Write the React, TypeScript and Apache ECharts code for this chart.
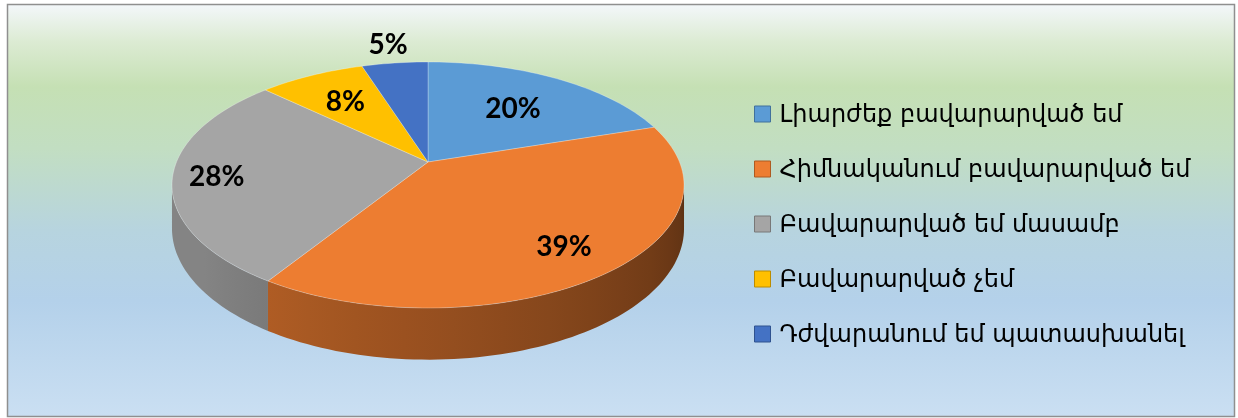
import React, { useEffect, useRef } from "react";
import * as echarts from "echarts";

const CATEGORIES = [
  "Լիարժեք բավարարված եմ",
  "Հիմնականում բավարարված եմ",
  "Բավարարված եմ մասամբ",
  "Բավարարված չեմ",
  "Դժվարանում եմ պատասխանել",
];
const VALUES = [20, 39, 28, 8, 5];
const COLORS = ["#5b9bd5", "#ed7d31", "#a5a5a5", "#ffc000", "#4472c4"];
const BORDERS = ["#41719c", "#ae5a21", "#787878", "#bc8c00", "#2f528f"];
const LABEL_RADIUS = [0.63, 0.78, 0.83, 0.68, 1.25];

// projection of the tilted pie
const CX = 428;
const CY = 162;
const A = 118.7;
const B = 251.5;
const PB = 0.187;
const H = 42;

function project(deg: number, r: number, h: number) {
  const t = (deg * Math.PI) / 180;
  const X = r * Math.sin(t);
  const Z = r * Math.cos(t);
  const d = 1 + PB * Z;
  return [CX + (B * X) / d, CY - (A * Z) / d + (H * h) / d];
}

function hexToRgb(c: string) {
  const n = parseInt(c.slice(1), 16);
  return [(n >> 16) & 255, (n >> 8) & 255, n & 255];
}
function shade(c: string, f: number) {
  const [r, g, b] = hexToRgb(c);
  return `rgb(${Math.round(r * f)},${Math.round(g * f)},${Math.round(b * f)})`;
}
function wallFactor(deg: number) {
  return Math.min(0.8, Math.max(0.39, 0.39 + (deg - 100) * 0.0031));
}

const TOTAL = VALUES.reduce((a, b) => a + b, 0);
const VIS0 = (Math.acos(-PB) * 180) / Math.PI;
const VIS1 = 360 - VIS0;

function renderItem(params: any, api: any) {
  const i = params.dataIndex;
  let before = 0;
  for (let k = 0; k < i; k++) before += VALUES[k];
  const v = api.value(0);
  const a0 = (before / TOTAL) * 360;
  const a1 = ((before + v) / TOTAL) * 360;
  const children: any[] = [];

  // side wall
  const s = Math.max(a0, VIS0);
  const e = Math.min(a1, VIS1);
  if (e > s) {
    const n = Math.max(2, Math.ceil((e - s) / 1.5));
    const top: number[][] = [];
    const bot: number[][] = [];
    for (let k = 0; k <= n; k++) {
      const p = s + ((e - s) * k) / n;
      top.push(project(p, 1, 0));
      bot.push(project(p, 1, 1));
    }
    const x0 = top[0][0];
    const x1 = top[top.length - 1][0];
    const stops: any[] = [];
    for (let k = 0; k <= 12; k++) {
      const p = s + ((e - s) * k) / 12;
      const x = project(p, 1, 0)[0];
      stops.push({ offset: Math.min(1, Math.max(0, (x - x0) / (x1 - x0))), color: shade(COLORS[i], wallFactor(p)) });
    }
    children.push({
      type: "polygon",
      z2: 1,
      shape: { points: top.concat(bot.reverse()) },
      style: {
        fill: { type: "linear", x: x0, y: 0, x2: x1, y2: 0, colorStops: stops, global: true },
        stroke: null,
      },
    });
  }

  // top face
  const pts: number[][] = [project(0, 0, 0)];
  const n2 = Math.max(2, Math.ceil((a1 - a0) / 1.5));
  for (let k = 0; k <= n2; k++) pts.push(project(a0 + ((a1 - a0) * k) / n2, 1, 0));
  children.push({
    type: "polygon",
    z2: 10,
    shape: { points: pts },
    style: { fill: COLORS[i], stroke: "rgba(255,255,255,0.35)", lineWidth: 0.8, lineJoin: "round" },
  });

  // label
  const mid = (a0 + a1) / 2;
  const lp = project(mid, LABEL_RADIUS[i], 0);
  children.push({
    type: "text",
    z2: 100,
    x: lp[0],
    y: lp[1],
    style: {
      text: `${v}%`,
      fill: "#000",
      font: 'bold 28px Lato, "Open Sans", sans-serif',
      align: "center",
      verticalAlign: "middle",
    },
  });

  return { type: "group", children };
}

export default function App() {
  const ref = useRef<HTMLDivElement>(null);
  useEffect(() => {
    const chart = echarts.init(ref.current!, undefined, { renderer: "svg" });
    chart.setOption({
      animation: false,
      graphic: [
        {
          type: "rect",
          z: -10,
          silent: true,
          shape: { x: 7.5, y: 4.5, width: 1227, height: 412 },
          style: {
            fill: {
              type: "linear",
              x: 0,
              y: 0,
              x2: 0,
              y2: 1,
              colorStops: [
                { offset: 0, color: "#f3f7fa" },
                { offset: 0.09, color: "#dcebd3" },
                { offset: 0.2, color: "#c5e0b4" },
                { offset: 0.35, color: "#c2dec2" },
                { offset: 0.55, color: "#b7d4df" },
                { offset: 0.72, color: "#b4d1ea" },
                { offset: 1, color: "#cadff2" },
              ],
            },
            stroke: "#8f8f8f",
            lineWidth: 1.5,
          },
        },
      ],
      legend: {
        orient: "vertical",
        left: 754,
        top: 102,
        padding: 0,
        icon: "rect",
        itemWidth: 16,
        itemHeight: 16,
        itemGap: 31,
        selectedMode: false,
        data: CATEGORIES,
        itemStyle: { borderWidth: 1 },
        textStyle: {
          fontSize: 24,
          lineHeight: 16,
          fontFamily: '"DejaVu Sans", sans-serif',
          color: "#000",
          padding: [0, 0, 0, 4],
        },
      },
      series: [
        {
          type: "custom",
          coordinateSystem: "none",
          renderItem,
          silent: true,
          data: VALUES.map((v) => [v]),
        },
        {
          type: "pie",
          radius: 0,
          center: [-200, -200],
          silent: true,
          label: { show: false },
          labelLine: { show: false },
          data: CATEGORIES.map((name, i) => ({
            name,
            value: VALUES[i],
            itemStyle: { color: COLORS[i], borderColor: BORDERS[i], borderWidth: 1 },
          })),
        },
      ],
    });
    return () => chart.dispose();
  }, []);
  return (
    <div
      ref={ref}
      style={{ position: "fixed", left: 0, top: 0, width: 1238, height: 418 }}
    />
  );
}
